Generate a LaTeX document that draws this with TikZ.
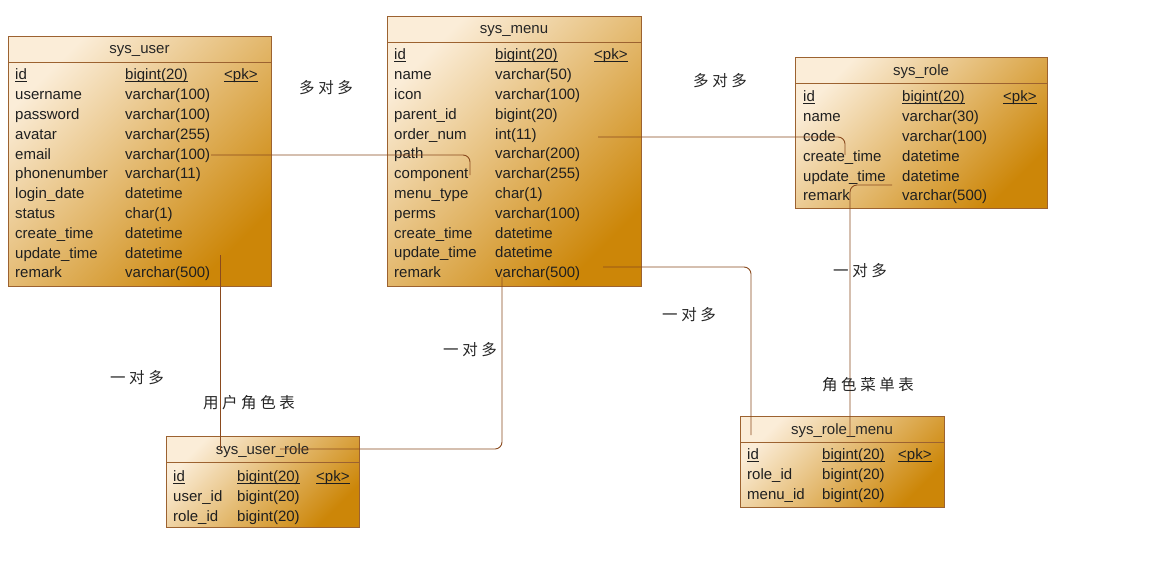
\documentclass[tikz,border=0pt]{standalone}
\usepackage{fontspec}
\setmainfont{Liberation Sans}
\newfontfamily\cjk{Noto Sans CJK SC}
\definecolor{tlight}{HTML}{FBEDD8}
\definecolor{tdark}{HTML}{CC8608}
\definecolor{tborder}{HTML}{9C6230}
\definecolor{conn}{HTML}{8A4A1E}
\newcommand\cjsp{\kern3.6pt}
\newcommand\tblbox[6]{% name x1 y1 x2 y2 title
  \shade[draw=tborder, line width=1pt, top color=tlight, bottom color=tdark, shading angle=45] (#2,#3) rectangle (#4,#5);
  \draw[tborder, line width=1pt] (#2,#3+26) -- (#4,#3+26);
  \node[font=\fontsize{15}{18}\selectfont, inner sep=0pt, text=black!85] (#1) at ({(#2+#4)/2},#3+15) {#6};
}
\newcommand\tblrows[5]{% prefix xn xt y0 list
  \foreach \n/\t [count=\i] in {#5} {
    \node[col] (#1n\i) at (#2,{#4+\i*19.8}) {\n};
    \node[col] (#1t\i) at (#3,{#4+\i*19.8}) {\t};
  }}
\newcommand\idrow[5]{% prefix xn xt xpk y
  \node[col] (#1id) at (#2,#5) {\uline{id}};
  \node[col] (#1idt) at (#3,#5) {\uline{bigint(20)}};
  \node[col] (#1pk) at (#4,#5) {\uline{<pk>}};
}
\newcommand\uline[1]{\underline{\smash{#1}}}
\begin{document}
\begin{tikzpicture}[x=1pt,y=-1pt,
  col/.style={anchor=west, inner sep=0pt, text height=11pt, text depth=3pt, yshift=-1.8pt, font=\fontsize{15}{18}\selectfont, text=black!88},
  lab/.style={inner sep=0pt, font=\cjk\fontsize{15.5}{18}\selectfont, text=black!85},
  link/.style={draw=conn, line width=0.9pt, rounded corners=7pt}]
\useasboundingbox (0,0) rectangle (1153,563);
\fill[white] (0,0) rectangle (1153,563);

% sys_user
\tblbox{user}{8}{36}{271}{286}{sys\_user}
\idrow{u}{15}{125}{224}{74}
\tblrows{u}{15}{125}{74}{username/varchar(100), password/varchar(100), avatar/varchar(255), email/varchar(100), phonenumber/varchar(11), login\_date/datetime, status/char(1), create\_time/datetime, update\_time/datetime, remark/varchar(500)}

% sys_menu
\tblbox{menu}{387}{16}{641}{286}{sys\_menu}
\idrow{m}{394}{495}{594}{54}
\tblrows{m}{394}{495}{54}{name/varchar(50), icon/varchar(100), parent\_id/bigint(20), order\_num/int(11), path/varchar(200), component/varchar(255), menu\_type/char(1), perms/varchar(100), create\_time/datetime, update\_time/datetime, remark/varchar(500)}

% sys_role
\tblbox{role}{795}{57}{1047}{208}{sys\_role}
\idrow{r}{803}{902}{1003}{96}
\tblrows{r}{803}{902}{96}{name/varchar(30), code/varchar(100), create\_time/datetime, update\_time/datetime, remark/varchar(500)}

% sys_user_role
\tblbox{userrole}{166}{436}{359}{527}{sys\_user\_role}
\idrow{ur}{173}{237}{316}{476}
\tblrows{ur}{173}{237}{476}{user\_id/bigint(20), role\_id/bigint(20)}

% sys_role_menu
\tblbox{rolemenu}{740}{416}{944}{507}{sys\_role\_menu}
\idrow{rm}{747}{822}{898}{454}
\tblrows{rm}{747}{822}{454}{role\_id/bigint(20), menu\_id/bigint(20)}

% connector end points
\coordinate (c1a) at (211,155); \coordinate (c1b) at (470,175);
\coordinate (c2a) at (220,255); \coordinate (c2b) at (220,450);
\coordinate (c3a) at (502,277); \coordinate (c3b) at (280,449);
\coordinate (c4a) at (598,137); \coordinate (c4b) at (845,155);
\coordinate (c5a) at (603,267); \coordinate (c5b) at (751,435);
\coordinate (c6a) at (892,185); \coordinate (c6b) at (850,437);

\draw[link] (c1a) -| (c1b);
\draw[link] (c2a) -- (c2b);
\draw[link] (c3a) |- (c3b);
\draw[link] (c4a) -| (c4b);
\draw[link] (c5a) -| (c5b);
\draw[link] (c6a) -| (c6b);

% labels
\node[lab] (l1) at (326,88) {多\cjsp 对\cjsp 多};
\node[lab] (l2) at (720,81) {多\cjsp 对\cjsp 多};
\node[lab] (l3) at (137,378) {一\cjsp 对\cjsp 多};
\node[lab] (l4) at (249,403) {用\cjsp 户\cjsp 角\cjsp 色\cjsp 表};
\node[lab] (l5) at (470,350) {一\cjsp 对\cjsp 多};
\node[lab] (l6) at (689,315) {一\cjsp 对\cjsp 多};
\node[lab] (l7) at (860,271) {一\cjsp 对\cjsp 多};
\node[lab] (l8) at (868,385) {角\cjsp 色\cjsp 菜\cjsp 单\cjsp 表};
\end{tikzpicture}
\end{document}
